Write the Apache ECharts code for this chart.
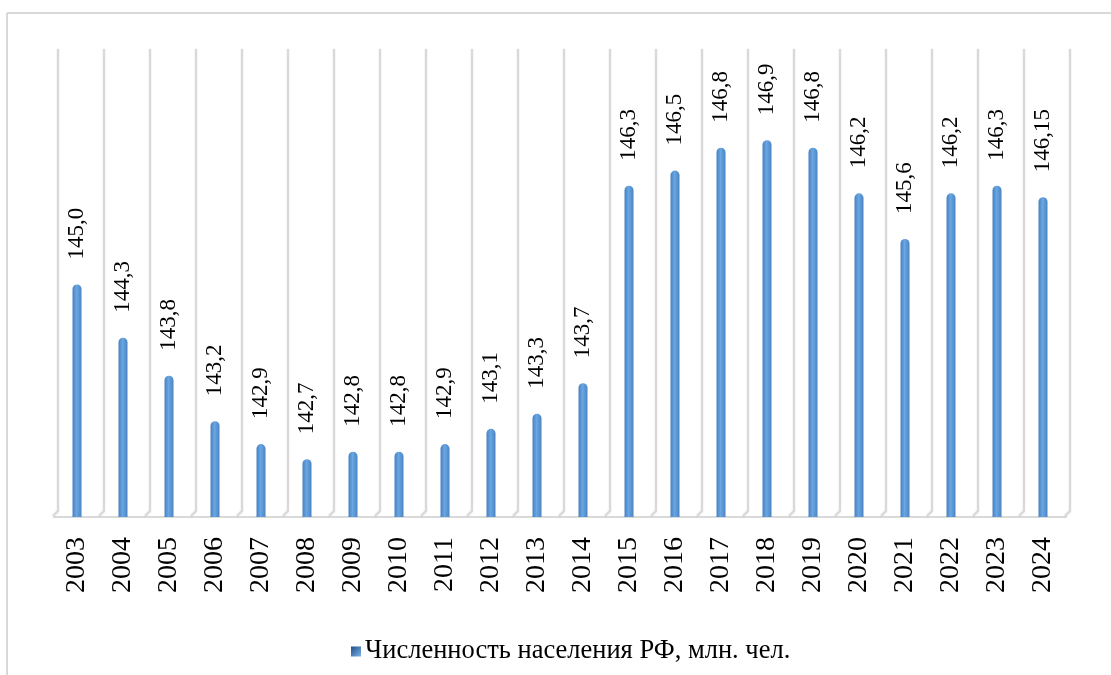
<!DOCTYPE html>
<html>
<head>
<meta charset="utf-8">
<script src="https://cdn.jsdelivr.net/npm/echarts@6/dist/echarts.min.js"></script>
<style>
html,body{margin:0;padding:0;background:#fff;}
#chart{width:1111px;height:675px;}
</style>
</head>
<body>
<div id="chart"></div>
<script>
const years = ['2003','2004','2005','2006','2007','2008','2009','2010','2011','2012','2013','2014','2015','2016','2017','2018','2019','2020','2021','2022','2023','2024'];
const population = [145.0,144.3,143.8,143.2,142.9,142.7,142.8,142.8,142.9,143.1,143.3,143.7,146.3,146.5,146.8,146.9,146.8,146.2,145.6,146.2,146.3,146.15];
const seriesName = 'Численность населения РФ, млн. чел.';
const yMin = 141.94;
const yMax = 148.1;

const FONT = "'Liberation Serif','Times New Roman',serif";

function fmt(v){
  const s = (Math.round(v*10)/10 === v) ? v.toFixed(1) : String(v);
  return s.replace('.', ',');
}

const chart = echarts.init(document.getElementById('chart'), null, {renderer:'canvas'});

const wallStyle = {stroke:'#d9d9d9', lineWidth:2, fill:null, shadowBlur:2, shadowColor:'rgba(0,0,0,0.12)'};

chart.setOption({
  animation:false,
  backgroundColor:'#ffffff',
  grid:{left:54, right:45, top:49, bottom:158},
  xAxis:{
    type:'category',
    data:years,
    axisTick:{show:false},
    axisLine:{show:true, lineStyle:{color:'#d9d9d9', width:2}},
    axisLabel:{rotate:90, margin:20, color:'#000', fontFamily:FONT, fontSize:28},
    splitLine:{show:false}
  },
  yAxis:{
    type:'value', min:yMin, max:yMax, show:false,
    splitLine:{show:false}
  },
  legend:{
    data:[seriesName],
    left:346, top:633,
    icon:'rect', itemWidth:10, itemHeight:10, itemGap:10,
    textStyle:{fontFamily:FONT, fontSize:26.5, color:'#000', padding:[0,0,0,-1]},
    itemStyle:{color:new echarts.graphic.LinearGradient(0,0,1,1,[{offset:0,color:'#1f4e8c'},{offset:1,color:'#7fb2e6'}])}
  },
  graphic:[
    {type:'line', shape:{x1:7,y1:13,x2:1111,y2:13}, style:{stroke:'#d9d9d9', lineWidth:2}},
    {type:'line', shape:{x1:7,y1:13,x2:7,y2:675}, style:{stroke:'#d9d9d9', lineWidth:2}}
  ],
  series:[
    {
      type:'custom',
      name:'walls',
      silent:true,
      z:1,
      data:population.map((v,i)=>[i,v]),
      renderItem:function(params, api){
        const cs = params.coordSys;
        const c = api.coord([api.value(0), yMin]);
        const bw = api.size([1,0])[0];
        const top = cs.y;
        const bottom = cs.y + cs.height;
        const mk = function(xb){
          return {type:'polyline', shape:{points:[[xb+4, top],[xb+4, bottom-6],[xb-1, bottom-1]]}, style:wallStyle};
        };
        const children = [mk(c[0]-bw/2)];
        if (params.dataIndex === population.length-1) children.push(mk(c[0]+bw/2));
        return {type:'group', children:children};
      }
    },
    {
      type:'bar',
      name:seriesName,
      z:3,
      data:population,
      barWidth:9,
      itemStyle:{
        borderRadius:[4.5,4.5,0,0],
        color:new echarts.graphic.LinearGradient(0,0,1,0,[
          {offset:0,color:'#4680c2'},
          {offset:0.45,color:'#6aa6e2'},
          {offset:1,color:'#4a84c4'}
        ])
      },
      label:{
        show:true, position:'top', rotate:90, align:'left', verticalAlign:'middle',
        distance:25, color:'#000', fontFamily:FONT, fontSize:23,
        formatter:function(p){return fmt(p.value);}
      }
    }
  ]
});
</script>
</body>
</html>
